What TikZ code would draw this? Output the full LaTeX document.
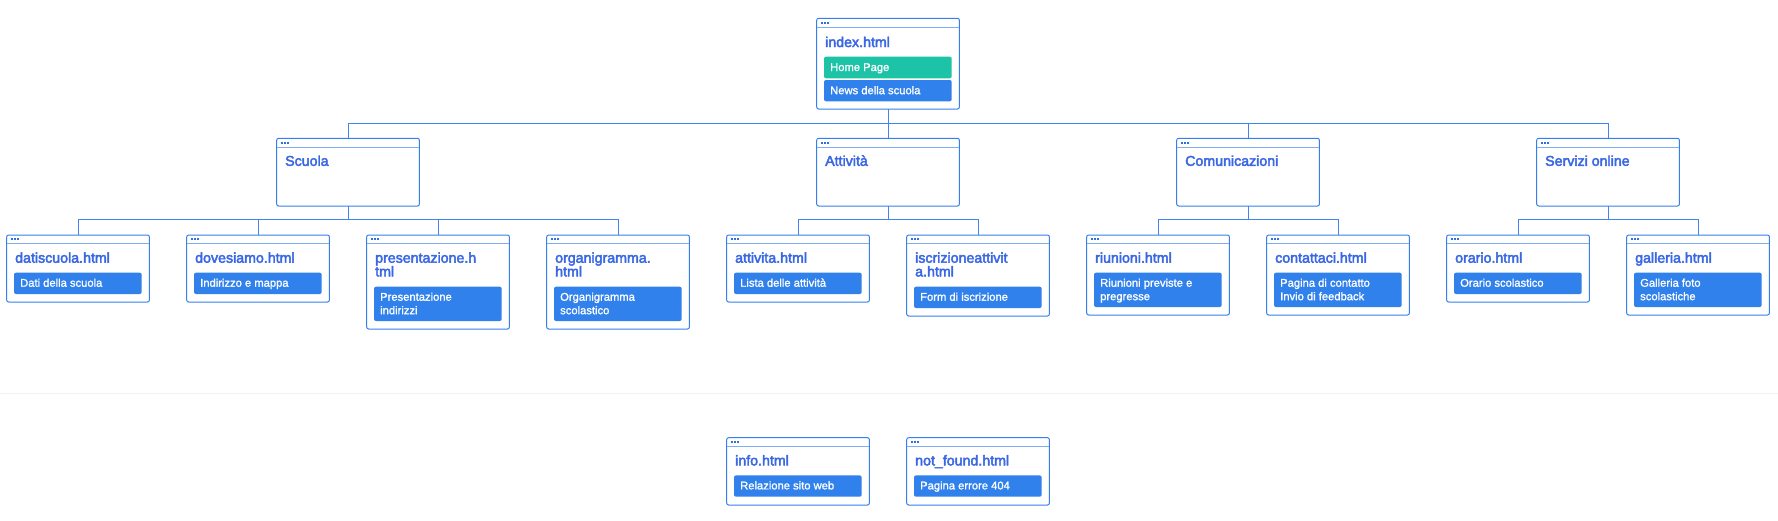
\documentclass[tikz,border=0pt]{standalone}
\usepackage{fontspec}
\setmainfont{Liberation Sans}
\newfontfamily\ttlfam[FakeBold=3]{Liberation Sans}
\newfontfamily\barfam[FakeBold=1.2]{Liberation Sans}
\usetikzlibrary{calc}
\definecolor{boxblue}{HTML}{3580EE}
\definecolor{hdrblue}{HTML}{7FAEF6}
\definecolor{dotblue}{HTML}{2F6FE0}
\definecolor{ttlblue}{HTML}{3A68E4}
\definecolor{barblue}{HTML}{3181EC}
\definecolor{bargreen}{HTML}{1DC3A7}
\definecolor{connblue}{HTML}{3F84F0}
\definecolor{sepgray}{HTML}{EEF1F5}
\tikzset{
 pagebox/.style={draw=boxblue, line width=1pt, rounded corners=2pt, fill=white, anchor=north west, minimum width=142.7pt, inner sep=0pt, outer sep=0pt},
 hdrline/.style={draw=hdrblue, line width=0.9pt},
 dotsq/.style={fill=dotblue},
 ttl/.style={font=\ttlfam\fontsize{14.2}{16}\selectfont, text=ttlblue, anchor=base west, inner sep=0pt},
 barbox/.style={rounded corners=2pt, anchor=north west, minimum width=127.7pt, inner sep=0pt, outer sep=0pt},
 bartxt/.style={font=\barfam\fontsize{11.2}{13}\selectfont, text=white, anchor=base west, inner sep=0pt},
 conn/.style={draw=connblue, line width=1pt},
 sepline/.style={draw=sepgray, line width=1.5pt},
}
% #1 name, #2 left, #3 top, #4 height
\newcommand\webpage[4]{%
 \node[pagebox, minimum height=#4pt] (#1) at (#2,#3) {};
 \draw[hdrline] ([yshift=-8.7pt]#1.north west) -- ([yshift=-8.7pt]#1.north east);
 \fill[dotsq] ([xshift=4pt,yshift=-3.3pt]#1.north west) rectangle ++(2.1pt,-2.1pt);
 \fill[dotsq] ([xshift=7.2pt,yshift=-3.3pt]#1.north west) rectangle ++(2.1pt,-2.1pt);
 \fill[dotsq] ([xshift=10.4pt,yshift=-3.3pt]#1.north west) rectangle ++(2.1pt,-2.1pt);
}
% #1 name, #2 box, #3 baseline offset, #4 text
\newcommand\ttline[4]{\node[ttl] (#1) at ([xshift=8.3pt,yshift=-#3pt]#2.north west) {#4};}
% #1 name, #2 box, #3 top offset, #4 height, #5 colour
\newcommand\pbar[5]{\node[barbox, fill=#5, minimum height=#4pt] (#1) at ([xshift=7.3pt,yshift=-#3pt]#2.north west) {};}
% #1 name, #2 bar, #3 baseline offset, #4 text
\newcommand\bline[4]{\node[bartxt] (#1) at ([xshift=6pt,yshift=-#3pt]#2.north west) {#4};}
\begin{document}
\begin{tikzpicture}[x=1pt,y=-1pt]
\useasboundingbox (0,0) rectangle (1778,520);
\fill[white] (0,0) rectangle (1778,520);

% separator
\coordinate (sepL) at (0,393.3);
\coordinate (sepR) at (1778,393.3);
\draw[sepline] (sepL) -- (sepR);

% root
\webpage{idx}{816.7}{18.3}{90.7}
\ttline{idxT}{idx}{28.7}{index.html}
\pbar{idxB1}{idx}{38.4}{21.6}{bargreen}
\bline{idxB1t}{idxB1}{14.3}{Home Page}
\pbar{idxB2}{idx}{61.7}{21.3}{barblue}
\bline{idxB2t}{idxB2}{14.2}{News della scuola}

% categories
\webpage{scu}{276.7}{138.3}{67.7}
\ttline{scuT}{scu}{27.5}{Scuola}
\webpage{att}{816.7}{138.3}{67.7}
\ttline{attT}{att}{27.5}{Attività}
\webpage{com}{1176.7}{138.3}{67.7}
\ttline{comT}{com}{27.5}{Comunicazioni}
\webpage{srv}{1536.7}{138.3}{67.7}
\ttline{srvT}{srv}{27.5}{Servizi online}

% leaves
\webpage{dati}{6.7}{235}{67}
\ttline{datiT}{dati}{27.7}{datiscuola.html}
\pbar{datiB}{dati}{37.7}{21.3}{barblue}
\bline{datiBt}{datiB}{14}{Dati della scuola}

\webpage{dove}{186.7}{235}{67}
\ttline{doveT}{dove}{27.7}{dovesiamo.html}
\pbar{doveB}{dove}{37.7}{21.3}{barblue}
\bline{doveBt}{doveB}{14}{Indirizzo e mappa}

\webpage{pres}{366.7}{235}{94}
\ttline{presT1}{pres}{27.7}{presentazione.h}
\ttline{presT2}{pres}{41.4}{tml}
\pbar{presB}{pres}{51.7}{34.3}{barblue}
\bline{presBt1}{presB}{14}{Presentazione}
\bline{presBt2}{presB}{27.5}{indirizzi}

\webpage{org}{546.7}{235}{94}
\ttline{orgT1}{org}{27.7}{organigramma.}
\ttline{orgT2}{org}{41.4}{html}
\pbar{orgB}{org}{51.7}{34.3}{barblue}
\bline{orgBt1}{orgB}{14}{Organigramma}
\bline{orgBt2}{orgB}{27.5}{scolastico}

\webpage{atth}{726.7}{235}{67}
\ttline{atthT}{atth}{27.7}{attivita.html}
\pbar{atthB}{atth}{37.7}{21.3}{barblue}
\bline{atthBt}{atthB}{14}{Lista delle attività}

\webpage{isc}{906.7}{235}{81}
\ttline{iscT1}{isc}{27.7}{iscrizioneattivit}
\ttline{iscT2}{isc}{41.4}{a.html}
\pbar{iscB}{isc}{51.7}{21.3}{barblue}
\bline{iscBt}{iscB}{14}{Form di iscrizione}

\webpage{riu}{1086.7}{235}{80}
\ttline{riuT}{riu}{27.7}{riunioni.html}
\pbar{riuB}{riu}{37.7}{34.3}{barblue}
\bline{riuBt1}{riuB}{14}{Riunioni previste e}
\bline{riuBt2}{riuB}{27.5}{pregresse}

\webpage{con}{1266.7}{235}{80}
\ttline{conT}{con}{27.7}{contattaci.html}
\pbar{conB}{con}{37.7}{34.3}{barblue}
\bline{conBt1}{conB}{14}{Pagina di contatto}
\bline{conBt2}{conB}{27.5}{Invio di feedback}

\webpage{ora}{1446.7}{235}{67}
\ttline{oraT}{ora}{27.7}{orario.html}
\pbar{oraB}{ora}{37.7}{21.3}{barblue}
\bline{oraBt}{oraB}{14}{Orario scolastico}

\webpage{gal}{1626.7}{235}{80}
\ttline{galT}{gal}{27.7}{galleria.html}
\pbar{galB}{gal}{37.7}{34.3}{barblue}
\bline{galBt1}{galB}{14}{Galleria foto}
\bline{galBt2}{galB}{27.5}{scolastiche}

% standalone pages
\webpage{info}{726.7}{437.7}{67.3}
\ttline{infoT}{info}{27.7}{info.html}
\pbar{infoB}{info}{37.7}{21.3}{barblue}
\bline{infoBt}{infoB}{14}{Relazione sito web}

\webpage{nf}{906.7}{437.7}{67.3}
\ttline{nfT}{nf}{27.7}{not\_found.html}
\pbar{nfB}{nf}{37.7}{21.3}{barblue}
\bline{nfBt}{nfB}{14}{Pagina errore 404}

% connectors
\draw[conn] (idx.south) -- ([yshift=-14.3pt]idx.south) coordinate (j0);
\draw[conn] (j0) -| (scu.north);
\draw[conn] (j0) -- (att.north);
\draw[conn] (j0) -| (com.north);
\draw[conn] (j0) -| (srv.north);

\draw[conn] (scu.south) -- ([yshift=-13.3pt]scu.south) coordinate (j1);
\draw[conn] (j1) -| (dati.north);
\draw[conn] (j1) -| (dove.north);
\draw[conn] (j1) -| (pres.north);
\draw[conn] (j1) -| (org.north);

\draw[conn] (att.south) -- ([yshift=-13.3pt]att.south) coordinate (j2);
\draw[conn] (j2) -| (atth.north);
\draw[conn] (j2) -| (isc.north);

\draw[conn] (com.south) -- ([yshift=-13.3pt]com.south) coordinate (j3);
\draw[conn] (j3) -| (riu.north);
\draw[conn] (j3) -| (con.north);

\draw[conn] (srv.south) -- ([yshift=-13.3pt]srv.south) coordinate (j4);
\draw[conn] (j4) -| (ora.north);
\draw[conn] (j4) -| (gal.north);
\end{tikzpicture}
\end{document}
